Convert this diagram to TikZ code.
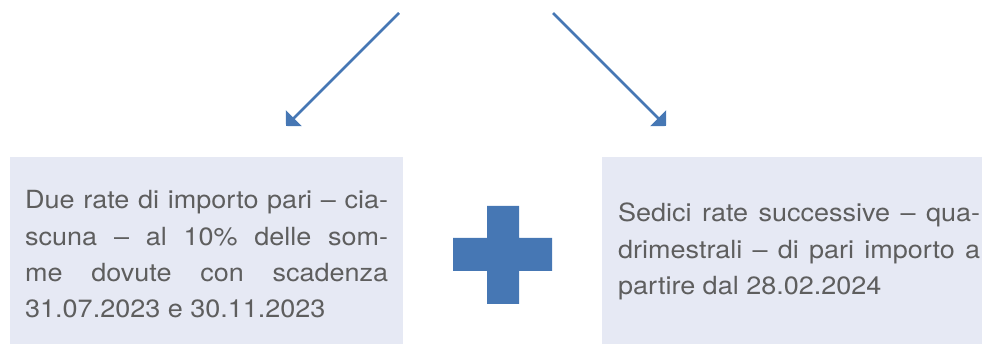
\documentclass[tikz,border=0pt]{standalone}
\usepackage{fontspec}
\setmainfont{TeX Gyre Heros}[FakeStretch=1.08]
\usetikzlibrary{arrows.meta}
\definecolor{boxfill}{HTML}{E6E9F4}
\definecolor{accent}{HTML}{4677B4}
\definecolor{txt}{HTML}{5E5E5E}
\begin{document}
\begin{tikzpicture}[x=1pt,y=-1pt,
  box/.style={fill=boxfill, draw=none, inner sep=0pt, anchor=north west},
  boxtext/.style={anchor=base west, inner sep=0pt, align=justify, text=txt,
    font=\fontsize{25}{36.3}\selectfont},
  conn/.style={draw=accent, line width=2.5pt, -{Triangle[length=11pt,width=22pt]}}]
\useasboundingbox (0,0) rectangle (982,344);
% boxes
\node[box, minimum width=393pt, minimum height=190pt] (leftbox) at (10,157) {};
\node[box, minimum width=380pt, minimum height=190pt] (rightbox) at (602,157) {};
% texts
\node[boxtext, text width=363pt] (lefttext) at (25,209)
  {Due rate di importo pari -- cia-\linebreak scuna -- al 10\% delle som-\linebreak me dovute con scadenza\linebreak 31.07.2023 e 30.11.2023};
\node[boxtext, text width=362pt] (righttext) at (618,222)
  {Sedici rate successive -- qua-\linebreak drimestrali -- di pari importo a\linebreak partire dal 28.02.2024};
% plus sign
\fill[accent] (487,206) -- (519,206) -- (519,238) -- (552,238) -- (552,271) -- (519,271)
  -- (519,304) -- (487,304) -- (487,271) -- (453,271) -- (453,238) -- (487,238) -- cycle;
% arrows
\coordinate (s1) at (399,13);
\coordinate (e1) at (286,126);
\coordinate (s2) at (553,13);
\coordinate (e2) at (666,126);
\draw[conn] (s1) -- (e1);
\draw[conn] (s2) -- (e2);
\end{tikzpicture}
\end{document}
